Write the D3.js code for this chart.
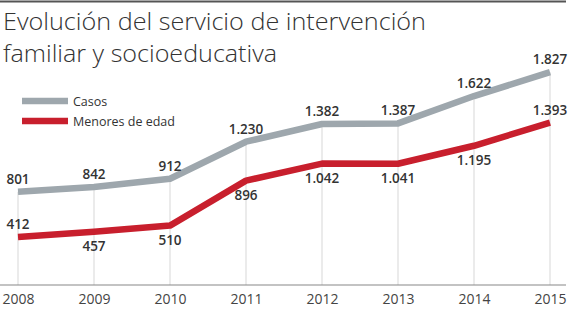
<!DOCTYPE html>
<html>
<head>
<meta charset="utf-8">
<script src="https://cdn.jsdelivr.net/npm/d3@7"></script>
<style>
body { margin: 0; background: #fff; }
text { font-family: "Open Sans", sans-serif; }
</style>
</head>
<body>
<svg width="575" height="323"></svg>
<script>
var years = [2008, 2009, 2010, 2011, 2012, 2013, 2014, 2015];
var casos = [801, 842, 912, 1230, 1382, 1387, 1622, 1827];
var menores = [412, 457, 510, 896, 1042, 1041, 1195, 1393];
// label above (-1) or below (1) the red line
var menoresPos = [-1, 1, 1, 1, 1, 1, 1, -1];
var seriesNames = ["Casos", "Menores de edad"];
var seriesColors = ["#9ea7ad", "#c81f2d"];
var titleLines = ["Evolución del servicio de intervención", "familiar y socioeducativa"];

var svg = d3.select("svg");
var fmt = function(v) { return d3.format(",")(v).replace(/,/g, "."); };

var x = d3.scalePoint().domain(years).range([18, 550]);
var y = d3.scaleLinear().domain([0, 2000]).range([285, 52]);

// top rule
svg.append("line")
	.attr("x1", 0).attr("x2", 566)
	.attr("y1", 1.5).attr("y2", 1.5)
	.attr("stroke", "#555").attr("stroke-width", 2);

// title, two separate lines
var titleWidths = [423, 274];
svg.append("g").selectAll("text")
	.data(titleLines)
	.join("text")
	.attr("x", 3)
	.attr("y", function(d, i) { return 29.5 + i * 32.5; })
	.attr("font-family", "DejaVu Sans, sans-serif")
	.attr("font-weight", 200)
	.attr("font-size", 24)
	.attr("fill", "#333")
	.attr("textLength", function(d, i) { return titleWidths[i]; })
	.attr("lengthAdjust", "spacingAndGlyphs")
	.text(function(d) { return d; });

// vertical grid lines, from baseline up to the top line
svg.append("g").selectAll("line")
	.data(years)
	.join("line")
	.attr("x1", function(d) { return x(d); })
	.attr("x2", function(d) { return x(d); })
	.attr("y1", y(0))
	.attr("y2", function(d, i) { return y(casos[i]); })
	.attr("stroke", "#e4e4e4").attr("stroke-width", 1.5);

// x axis
var xAxis = svg.append("g")
	.attr("transform", "translate(0," + y(0) + ")")
	.call(d3.axisBottom(x).tickSize(0).tickPadding(9));
xAxis.select(".domain").attr("d", "M0,0H566").attr("stroke", "#888").attr("stroke-width", 1.2);
xAxis.selectAll("text")
	.attr("font-family", "Open Sans, sans-serif")
	.attr("font-size", 14).attr("fill", "#444");

var line = d3.line()
	.x(function(d, i) { return x(years[i]); })
	.y(function(d) { return y(d); });

[casos, menores].forEach(function(data, k) {
	svg.append("path")
		.datum(data)
		.attr("d", line)
		.attr("fill", "none")
		.attr("stroke", seriesColors[k])
		.attr("stroke-width", 6.5)
		.attr("stroke-linejoin", "round");
});

// value labels
svg.append("g").selectAll("text")
	.data(casos)
	.join("text")
	.attr("x", function(d, i) { return x(years[i]); })
	.attr("y", function(d) { return y(d) - 8; })
	.attr("text-anchor", "middle")
	.attr("font-size", 13.5).attr("font-weight", 600).attr("fill", "#333")
	.text(fmt);

svg.append("g").selectAll("text")
	.data(menores)
	.join("text")
	.attr("x", function(d, i) { return x(years[i]); })
	.attr("y", function(d, i) { return menoresPos[i] < 0 ? y(d) - 8 : y(d) + 19; })
	.attr("text-anchor", "middle")
	.attr("font-size", 13.5).attr("font-weight", 600).attr("fill", "#333")
	.text(fmt);

// legend
var legend = svg.append("g").selectAll("g")
	.data(seriesNames)
	.join("g")
	.attr("transform", function(d, i) { return "translate(22," + (101 + i * 20) + ")"; });
legend.append("line")
	.attr("x1", 0).attr("x2", 46)
	.attr("stroke", function(d, i) { return seriesColors[i]; })
	.attr("stroke-width", 6.5);
legend.append("text")
	.attr("x", 51).attr("y", 4.5)
	.attr("font-size", 12.5).attr("fill", "#333")
	.text(function(d) { return d; });
</script>
</body>
</html>
